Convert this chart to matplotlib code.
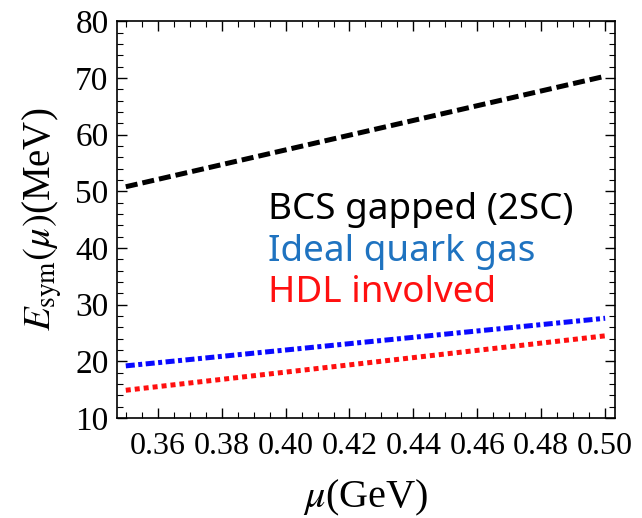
import numpy as np
import matplotlib
matplotlib.use("Agg")
import matplotlib.pyplot as plt
from matplotlib.ticker import MultipleLocator, FormatStrFormatter

# chemical potential (GeV) and symmetry energy (MeV) for each model
mu = [0.35, 0.40, 0.45, 0.50]
e_bcs = [50.8, 57.3, 63.8, 70.3]
e_ideal = [19.2, 22.0, 24.8, 27.6]
e_hdl = [14.9, 18.1, 21.3, 24.5]

labels = ["BCS gapped (2SC)", "Ideal quark gas", "HDL involved"]
text_colors = ["black", "#1f73c0", "#ff1010"]

plt.rcParams["mathtext.fontset"] = "stix"
plt.rcParams["font.family"] = "Liberation Serif"

fig = plt.figure(figsize=(6.42, 5.18), dpi=100)
ax = fig.add_axes([0.182, 0.193, 0.776, 0.766])

lw = 3.6
ax.plot(mu, e_bcs, color="black", lw=lw, dashes=(2.4, 1.0))
ax.plot(mu, e_ideal, color="#0a0aff", lw=lw, dashes=(1.8, 0.7, 0.8, 0.7))
ax.plot(mu, e_hdl, color="#ff1010", lw=lw, dashes=(1.0, 0.8))

ax.set_xlim(0.3472, 0.5031)
ax.set_ylim(10, 80)
ax.xaxis.set_major_locator(MultipleLocator(0.02))
ax.xaxis.set_minor_locator(MultipleLocator(0.005))
ax.xaxis.set_major_formatter(FormatStrFormatter("%.2f"))
ax.yaxis.set_major_locator(MultipleLocator(10))
ax.yaxis.set_minor_locator(MultipleLocator(2))
ax.tick_params(which="both", direction="in", top=True, right=True)
ax.tick_params(axis="x", labelsize=23, pad=10)
ax.tick_params(axis="y", labelsize=24, pad=6)
ax.tick_params(which="major", length=7, width=1)
ax.tick_params(which="minor", length=4, width=0.8)
for s in ax.spines.values():
    s.set_linewidth(1.2)

ax.set_xlabel(r"$\mu$(GeV)", fontsize=29, labelpad=12)
ax.set_ylabel(r"$E_{\mathrm{sym}}(\mu)$(MeV)", fontsize=28, labelpad=8)

# model names written inside the frame
ys = [0.525, 0.418, 0.315]
for lab, c, y in zip(labels, text_colors, ys):
    ax.text(0.303, y, lab, color=c, transform=ax.transAxes, fontsize=26.5,
            family="Noto Sans", va="center", ha="left")

fig.savefig("out.png", dpi=100)
